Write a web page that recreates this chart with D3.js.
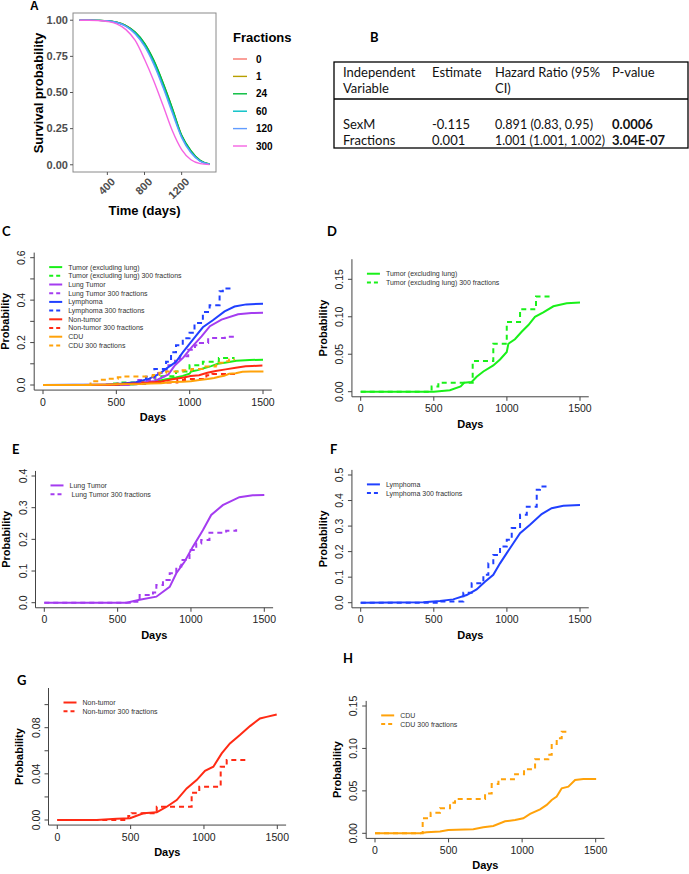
<!DOCTYPE html>
<html><head><meta charset="utf-8">
<script src="https://cdn.jsdelivr.net/npm/d3@7"></script>
<style>body{margin:0;background:#fff}svg{display:block}text{white-space:pre}</style>
</head><body>
<svg id="fig" width="689" height="874"></svg>
<script>
// ---------- Panel A data ----------
const survDays = [100,200,300,400,500,600,700,800,900,1000,1100,1200,1300,1400,1500];
const fractionLevels = ["0","1","24","60","120","300"];
const surv0   = [1.000,1.000,0.999,0.996,0.986,0.962,0.915,0.837,0.717,0.560,0.384,0.200,0.094,0.028,0.004];
const surv1   = [1.000,1.000,0.999,0.996,0.986,0.963,0.917,0.840,0.721,0.565,0.389,0.203,0.096,0.029,0.004];
const surv24  = [1.000,1.000,0.999,0.996,0.986,0.963,0.918,0.842,0.724,0.568,0.392,0.205,0.098,0.030,0.005];
const surv60  = [1.000,1.000,0.999,0.996,0.985,0.960,0.911,0.830,0.707,0.549,0.373,0.195,0.089,0.026,0.004];
const surv120 = [1.000,1.000,0.999,0.995,0.984,0.957,0.905,0.820,0.694,0.534,0.358,0.188,0.083,0.024,0.004];
const surv300 = [1.000,1.000,0.997,0.991,0.975,0.935,0.860,0.730,0.580,0.410,0.235,0.105,0.035,0.008,0.001];
const survAxisX = [400,800,1200];
const survAxisY = [0,0.25,0.5,0.75,1];

// ---------- Panel B data ----------
const tableHeader1 = ["Independent","Estimate","Hazard Ratio (95%","P-value"];
const tableHeader2 = ["Variable","","CI)",""];
const tableVariables = ["SexM","Fractions"];
const tableEstimates = ["-0.115","0.001"];
const tableHazard = ["0.891 (0.83, 0.95)","1.001 (1.001, 1.002)"];
const tablePvalues = ["0.0006","3.04E-07"];

// ---------- Cumulative incidence data (panels C-H) ----------
const tumorDays = [0,500,610,684,707,759,793,839,907,953,999,1010,1055,1101,1147,1192,1249,1318,1409,1500];
const tumorProb = [0,0,0.002,0.007,0.012,0.013,0.020,0.027,0.035,0.043,0.053,0.064,0.070,0.080,0.089,0.100,0.106,0.114,0.118,0.119];
const tumor300Days = [0,485,531,766,907,999,1090,1199,1306];
const tumor300Prob = [0,0.007,0.012,0.041,0.064,0.093,0.110,0.127,0.127];

const lungDays = [0,560,650,764,855,900,956,1013,1081,1138,1217,1330,1421,1500];
const lungProb = [0,0,0.009,0.019,0.050,0.093,0.129,0.177,0.229,0.277,0.308,0.333,0.339,0.340];
const lung300Days = [0,583,650,741,764,809,855,900,934,990,1036,1070,1126,1240,1308];
const lung300Prob = [0,0.003,0.024,0.032,0.056,0.072,0.093,0.114,0.135,0.166,0.187,0.198,0.221,0.227,0.232];

const lymphDays = [0,428,542,633,725,793,850,907,953,999,1044,1090,1158,1238,1306,1386,1500];
const lymphProb = [0,0.002,0.007,0.013,0.030,0.052,0.082,0.109,0.154,0.194,0.233,0.272,0.305,0.347,0.370,0.380,0.383];
const lymph300Days = [0,542,588,702,759,839,873,907,953,999,1033,1090,1136,1204,1226,1295];
const lymph300Prob = [0,0.005,0.005,0.039,0.076,0.109,0.154,0.187,0.220,0.246,0.292,0.344,0.376,0.442,0.455,0.455];

const nonTumorDays = [0,268,405,496,587,678,746,814,882,950,1007,1064,1121,1177,1245,1314,1382,1427,1496];
const nonTumorProb = [0,0,0.001,0.0015,0.0058,0.0067,0.0115,0.0173,0.0274,0.0346,0.0427,0.0462,0.0577,0.0664,0.0736,0.0814,0.088,0.0894,0.0915];
const nonTumor300Days = [0,484,507,678,916,968,1114,1155,1309];
const nonTumor300Prob = [0,0.0035,0.0058,0.0115,0.0236,0.0288,0.0462,0.052,0.052];

const cduDays = [0,306,351,442,498,668,736,804,884,952,1008,1054,1122,1167,1201,1235,1269,1314,1360,1416,1503];
const cduProb = [0,0,0.0012,0.002,0.0039,0.0047,0.0071,0.0086,0.0141,0.0157,0.0177,0.0228,0.0283,0.0334,0.0393,0.0432,0.053,0.055,0.0629,0.064,0.064];
const cdu300Days = [0,324,378,442,510,544,748,793,839,952,1013,1088,1178,1201,1235,1269,1303];
const cdu300Prob = [0,0.0177,0.0243,0.0295,0.036,0.0404,0.047,0.058,0.0637,0.0696,0.0755,0.0873,0.0927,0.1053,0.112,0.1198,0.1226];

const dayTicks = [0,500,1000,1500];

// ---------- styles ----------
const SANS = "'Liberation Sans', Arial, Helvetica, sans-serif";
const CAL = "Lato, 'Open Sans', sans-serif";
const fracColors = ["#F8766D","#B79F00","#00BA38","#00BFC4","#619CFF","#F564E3"];
const C_GREEN = "#19f019", C_PURPLE = "#a43cf0", C_BLUE = "#2040ff", C_RED = "#ff2a14", C_ORANGE = "#ffa20a";

const svg = d3.select("#fig");
const zip = (a,b) => a.map((v,i)=>[v,b[i]]);

// ---------- Panel A ----------
(function(){
  const g = svg.append("g");
  const x = d3.scaleLinear().domain([30,1570]).range([73,216]);
  const y = d3.scaleLinear().domain([-0.05,1.05]).range([172,13]);
  const series = [surv0,surv1,surv24,surv60,surv120,surv300];
  const line = d3.line().x(d=>x(d[0])).y(d=>y(d[1])).curve(d3.curveMonotoneX);
  series.forEach((s,i)=>{
    g.append("path").attr("d", line(zip(survDays,s))).attr("fill","none")
      .attr("stroke",fracColors[i]).attr("stroke-width",1.4);
  });
  g.append("rect").attr("x",73).attr("y",13).attr("width",143).attr("height",159)
    .attr("fill","none").attr("stroke","#8a8a8a").attr("stroke-width",1);
  survAxisY.forEach(v=>{
    g.append("line").attr("x1",70).attr("x2",73).attr("y1",y(v)).attr("y2",y(v)).attr("stroke","#555");
    g.append("text").attr("x",68).attr("y",y(v)).attr("dy","0.35em").attr("text-anchor","end")
      .attr("font-family",SANS).attr("font-weight","bold").attr("font-size",11).attr("fill","#4d4d4d")
      .text(d3.format(".2f")(v));
  });
  survAxisX.forEach(v=>{
    g.append("line").attr("x1",x(v)).attr("x2",x(v)).attr("y1",172).attr("y2",175).attr("stroke","#555");
    g.append("text").attr("transform",`translate(${x(v)+3},${177}) rotate(-45)`).attr("dy","0.71em")
      .attr("text-anchor","end").attr("font-family",SANS).attr("font-weight","bold").attr("font-size",11)
      .attr("fill","#4d4d4d").text(v);
  });
  g.append("text").attr("x",144.5).attr("y",215).attr("text-anchor","middle").attr("font-family",SANS)
    .attr("font-weight","bold").attr("font-size",13).text("Time (days)");
  g.append("text").attr("transform","translate(43,93) rotate(-90)").attr("text-anchor","middle")
    .attr("font-family",SANS).attr("font-weight","bold").attr("font-size",13).text("Survival probability");
  g.append("text").attr("x",233).attr("y",42).attr("font-family",SANS).attr("font-weight","bold")
    .attr("font-size",13).text("Fractions");
  fractionLevels.forEach((f,i)=>{
    const yy = 59 + i*17.4;
    g.append("line").attr("x1",233).attr("x2",247).attr("y1",yy).attr("y2",yy)
      .attr("stroke",fracColors[i]).attr("stroke-width",1.4);
    g.append("text").attr("x",256).attr("y",yy).attr("dy","0.35em").attr("font-family",SANS)
      .attr("font-weight","bold").attr("font-size",10).text(f);
  });
  g.append("text").attr("x",30).attr("y",10).attr("font-family",SANS).attr("font-weight","bold")
    .attr("font-size",12).text("A");
})();

// ---------- Panel B ----------
(function(){
  const g = svg.append("g");
  g.append("text").attr("x",370).attr("y",42).attr("font-family",CAL).attr("font-weight","bold")
    .attr("font-size",13).text("B");
  g.append("rect").attr("x",334).attr("y",62).attr("width",354).attr("height",86)
    .attr("fill","none").attr("stroke","#000").attr("stroke-width",1.3);
  g.append("line").attr("x1",334).attr("x2",688).attr("y1",99).attr("y2",99).attr("stroke","#000").attr("stroke-width",1.3);
  const colX = [343,432,495,612];
  const t = (x,y,s,bold,len)=>{
    const e = g.append("text").attr("x",x).attr("y",y).attr("font-family",CAL)
      .attr("font-size",13).attr("font-weight",bold?"bold":"normal").attr("fill","#111").text(s);
    if(len){ e.attr("textLength",len).attr("lengthAdjust","spacingAndGlyphs"); }
    return e;
  };
  tableHeader1.forEach((s,i)=>t(colX[i],77,s,false,i===2?105:null));
  tableHeader2.forEach((s,i)=>t(colX[i],93,s));
  const hazLen = [98,110];
  tableVariables.forEach((s,r)=>{
    const yy = 129 + r*16;
    t(colX[0],yy,s); t(colX[1],yy,tableEstimates[r]); t(colX[2],yy,tableHazard[r],false,hazLen[r]); t(colX[3],yy,tablePvalues[r],true);
  });
})();

// ---------- Panels C-H ----------
function cifPanel(cfg){
  const g = svg.append("g");
  const x = d3.scaleLinear().domain([0,1500]).range([cfg.x0,cfg.x1500]);
  const y = d3.scaleLinear().domain([0,cfg.yRef]).range([cfg.y0,cfg.yRefPx]);
  const xl = x(-60), xr = x(1560);
  const yb = y(-0.04*cfg.ymax), yt = y(1.04*cfg.ymax);
  cfg.series.forEach(s=>{
    const line = d3.line().x(d=>x(d[0])).y(d=>y(d[1])).curve(s.dashed?d3.curveStepAfter:d3.curveLinear);
    g.append("path").attr("d",line(zip(s.days,s.prob))).attr("fill","none").attr("stroke",s.color)
      .attr("stroke-width",2).attr("stroke-dasharray",s.dashed?"5,4":null);
  });
  g.append("path").attr("d",`M${xl},${yt}V${yb}H${xr}`).attr("fill","none").attr("stroke","#444").attr("stroke-width",1);
  cfg.yTicks.forEach(v=>{
    g.append("line").attr("x1",xl-4).attr("x2",xl).attr("y1",y(v)).attr("y2",y(v)).attr("stroke","#444");
  });
  cfg.yLabels.forEach(v=>{
    g.append("text").attr("transform",`translate(${xl-12.5},${y(v)}) rotate(-90)`).attr("dy","0.35em")
      .attr("text-anchor","middle").attr("font-family",SANS).attr("font-size",10.5).attr("fill","#222")
      .text(d3.format(cfg.yFmt)(v));
  });
  dayTicks.forEach(v=>{
    g.append("line").attr("x1",x(v)).attr("x2",x(v)).attr("y1",yb).attr("y2",yb+4).attr("stroke","#444");
    g.append("text").attr("x",x(v)).attr("y",yb+12).attr("dy","0.35em").attr("text-anchor","middle")
      .attr("font-family",SANS).attr("font-size",10.5).attr("fill","#222").text(v);
  });
  g.append("text").attr("x",(xl+xr)/2).attr("y",yb+31).attr("text-anchor","middle").attr("font-family",SANS)
    .attr("font-weight","bold").attr("font-size",11).text("Days");
  g.append("text").attr("transform",`translate(${xl-29},${(yt+yb)/2}) rotate(-90)`).attr("dy","0.35em")
    .attr("text-anchor","middle").attr("font-family",SANS).attr("font-weight","bold").attr("font-size",11)
    .text("Probability");
  cfg.series.forEach((s,i)=>{
    const yy = yt + 14.5 + i*8.7;
    g.append("line").attr("x1",xl+15).attr("x2",xl+28).attr("y1",yy).attr("y2",yy).attr("stroke",s.color)
      .attr("stroke-width",2).attr("stroke-dasharray",s.dashed?"4,3":null);
    g.append("text").attr("x",xl+34).attr("y",yy).attr("dy","0.35em").attr("font-family",SANS)
      .attr("font-size",7).attr("fill","#333").text(s.label);
  });
  g.append("text").attr("x",cfg.lx).attr("y",cfg.ly).attr("font-family",CAL).attr("font-weight","bold")
    .attr("font-size",13).text(cfg.letter);
}

const S = {
  tumor:{label:"Tumor (excluding lung)",days:tumorDays,prob:tumorProb,color:C_GREEN},
  tumor300:{label:"Tumor (excluding lung) 300 fractions",days:tumor300Days,prob:tumor300Prob,color:C_GREEN,dashed:true},
  lung:{label:"Lung Tumor",days:lungDays,prob:lungProb,color:C_PURPLE},
  lung300:{label:"Lung Tumor 300 fractions",days:lung300Days,prob:lung300Prob,color:C_PURPLE,dashed:true},
  lymph:{label:"Lymphoma",days:lymphDays,prob:lymphProb,color:C_BLUE},
  lymph300:{label:"Lymphoma 300 fractions",days:lymph300Days,prob:lymph300Prob,color:C_BLUE,dashed:true},
  non:{label:"Non-tumor",days:nonTumorDays,prob:nonTumorProb,color:C_RED},
  non300:{label:"Non-tumor 300 fractions",days:nonTumor300Days,prob:nonTumor300Prob,color:C_RED,dashed:true},
  cdu:{label:"CDU",days:cduDays,prob:cduProb,color:C_ORANGE},
  cdu300:{label:"CDU 300 fractions",days:cdu300Days,prob:cdu300Prob,color:C_ORANGE,dashed:true}
};

cifPanel({letter:"C",lx:2,ly:236,x0:43,x1500:263,y0:385,yRef:0.6,yRefPx:257.7,ymax:0.6,
  yTicks:[0,0.1,0.2,0.3,0.4,0.5,0.6],yLabels:[0,0.2,0.4,0.6],yFmt:".1f",
  series:[S.tumor,S.tumor300,S.lung,S.lung300,S.lymph,S.lymph300,S.non,S.non300,S.cdu,S.cdu300]});
cifPanel({letter:"D",lx:327,ly:236,x0:360.7,x1500:580,y0:391.7,yRef:0.15,yRefPx:279.3,ymax:0.17,
  yTicks:[0,0.05,0.1,0.15],yLabels:[0,0.05,0.1,0.15],yFmt:".2f",series:[S.tumor,S.tumor300]});
cifPanel({letter:"E",lx:12,ly:454,x0:44.3,x1500:264.3,y0:602.7,yRef:0.4,yRefPx:476,ymax:0.4,
  yTicks:[0,0.1,0.2,0.3,0.4],yLabels:[0,0.1,0.2,0.3,0.4],yFmt:".1f",
  series:[S.lung,Object.assign({},S.lung300,{label:" Lung Tumor 300 fractions"})]});
cifPanel({letter:"F",lx:330,ly:454,x0:360.7,x1500:580,y0:602.7,yRef:0.5,yRefPx:475,ymax:0.5,
  yTicks:[0,0.1,0.2,0.3,0.4,0.5],yLabels:[0,0.1,0.2,0.3,0.4,0.5],yFmt:".1f",series:[S.lymph,S.lymph300]});
cifPanel({letter:"G",lx:17,ly:685,x0:57.3,x1500:277.3,y0:820,yRef:0.08,yRefPx:727.7,ymax:0.11,
  yTicks:[0,0.02,0.04,0.06,0.08,0.1],yLabels:[0,0.04,0.08],yFmt:".2f",series:[S.non,S.non300]});
cifPanel({letter:"H",lx:343,ly:663,x0:375,x1500:595.7,y0:833.3,yRef:0.15,yRefPx:706,ymax:0.15,
  yTicks:[0,0.05,0.1,0.15],yLabels:[0,0.05,0.1,0.15],yFmt:".2f",series:[S.cdu,S.cdu300]});
</script>
</body></html>
